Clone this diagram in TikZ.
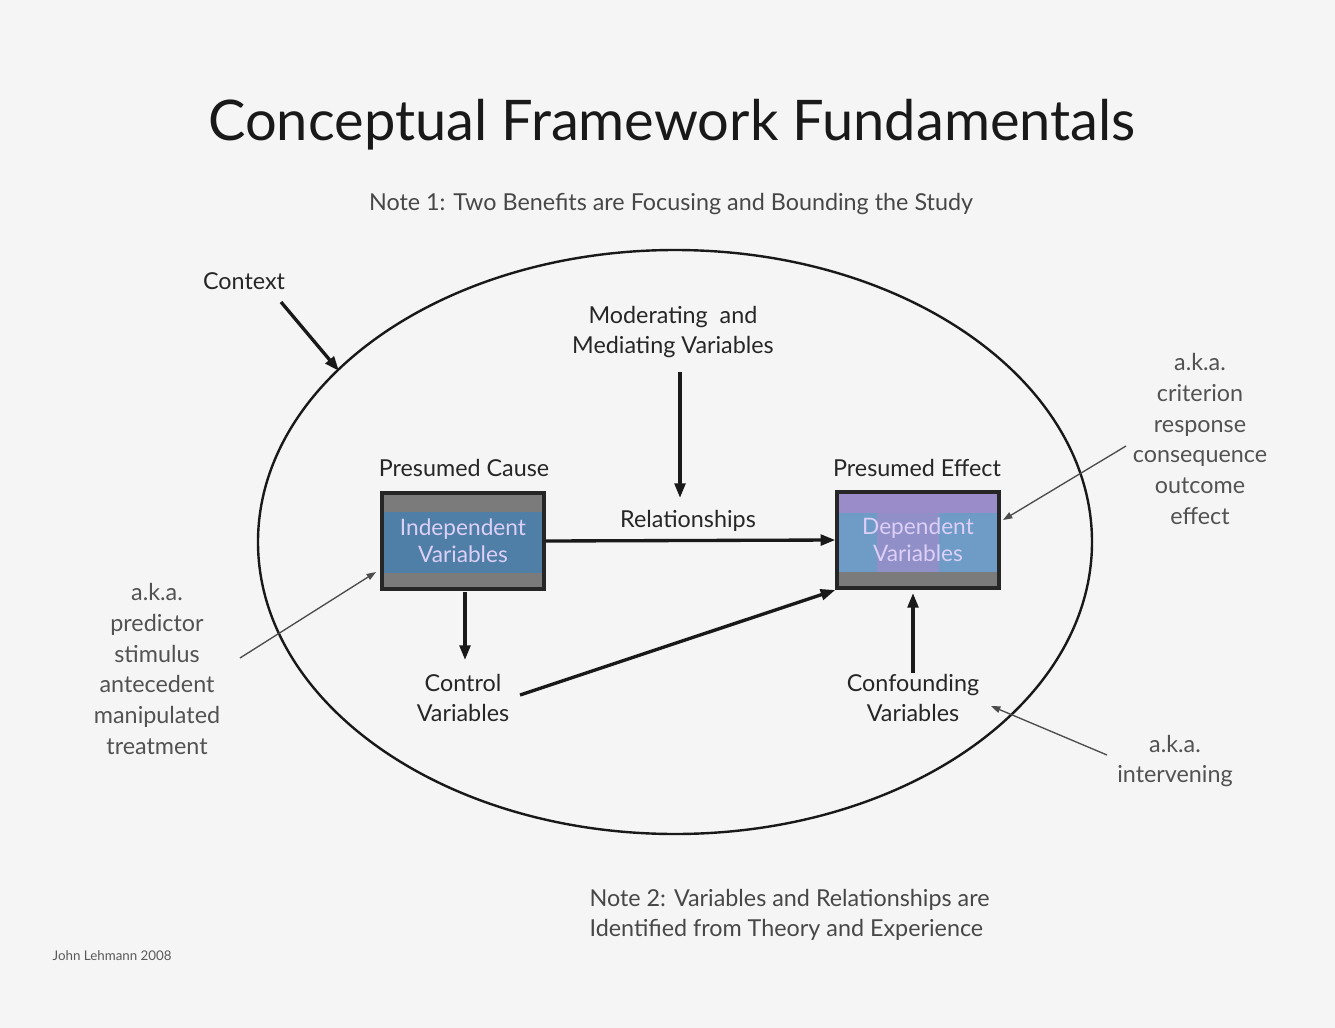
\documentclass[tikz,border=0pt]{standalone}
\usepackage{fontspec}
\setmainfont{Lato}
\usetikzlibrary{arrows.meta,calc}
\definecolor{bg}{HTML}{F5F5F5}
\definecolor{boxblue}{HTML}{4F7FA6}
\definecolor{boxblueL}{HTML}{6E9CC6}
\definecolor{boxpurple}{HTML}{9A8CC8}
\definecolor{lav}{HTML}{DCCFF8}
\definecolor{bandgray}{HTML}{7B7B7B}
\begin{document}
\begin{tikzpicture}[x=0.75pt,y=-0.75pt,
  lbl/.style={font=\fontsize{17.5}{22.5}\selectfont, align=center, text=black!85, inner sep=1pt},
  notetxt/.style={font=\fontsize{17.5}{22.5}\selectfont, text=black!72, inner sep=1pt},
  aka/.style={font=\fontsize{17.5}{23}\selectfont, align=center, text=black!68, inner sep=1pt},
  bigarrow/.style={-{Triangle[length=11pt,width=8pt]}, line width=2.5pt, draw=black!90},
  thinarrow/.style={-{Triangle[length=7pt,width=5pt]}, line width=1pt, draw=black!70},
  varbox/.style={draw=black!85, line width=3pt, minimum width=121pt, minimum height=72pt,
    font=\fontsize{17}{20}\selectfont, align=center, text=lav, inner sep=0pt},
  grayband/.style={path picture={
    \fill[bandgray] (path picture bounding box.north west) rectangle ($(path picture bounding box.north east)+(0,-14pt)$);
    \fill[bandgray] (path picture bounding box.south west) rectangle ($(path picture bounding box.south east)+(0,12pt)$);}},
  dvband/.style={path picture={
    \fill[boxpurple] (path picture bounding box.north west) rectangle ($(path picture bounding box.north east)+(0,-16pt)$);
    \fill[boxblueL] ($(path picture bounding box.north west)+(0,-16pt)$) rectangle ($(path picture bounding box.south east)+(0,12pt)$);
    \fill[boxpurple!80!boxblueL] ($(path picture bounding box.north west)+(30pt,-16pt)$) rectangle ($(path picture bounding box.south east)+(-45pt,12pt)$);
    \fill[bandgray] (path picture bounding box.south west) rectangle ($(path picture bounding box.south east)+(0,12pt)$);}}
]
\useasboundingbox (0,0) rectangle (1335,1028);
\fill[bg] (0,0) rectangle (1335,1028);

% title and notes
\node[font=\fontsize{42}{48}\selectfont, text=black!90] (title) at (672,125) {Conceptual Framework Fundamentals};
\node[notetxt] (note1) at (671,204) {Note 1: Two Benefits are Focusing and Bounding the Study};

% context ellipse
\draw[line width=1.8pt, black!90] (675,542) ellipse [x radius=312.75pt, y radius=219pt];
\node[lbl] (context) at (244,281) {Context};
\coordinate (ctxstart) at (281,302);
\coordinate (ctxend) at (339,371);
\draw[bigarrow] (ctxstart) -- (ctxend);

% moderating
\node[lbl] (mod) at (673,332) {Moderating~~and\\Mediating Variables};
\coordinate (modstart) at (680,372);
\coordinate (modend) at (680,498);
\draw[bigarrow] (modstart) -- (modend);

% boxes
\node[lbl] (pcause) at (464,468) {Presumed Cause};
\node[varbox, fill=boxblue, grayband] (iv) at (463,541) {Independent\\Variables};
\node[lbl] (peffect) at (917,468) {Presumed Effect};
\node[varbox, dvband] (dv) at (918,540) {Dependent\\Variables};

\node[lbl] (rel) at (688,521) {Relationships};
\draw[bigarrow] (iv.east) -- (dv.west);

% control
\node[lbl] (control) at (463,698) {Control\\Variables};
\coordinate (ivdown) at (465,592);
\coordinate (ctrlend) at (465,660);
\draw[bigarrow] (ivdown) -- (ctrlend);
\coordinate (ctrlstart) at (520,695);
\draw[bigarrow] (ctrlstart) -- (dv.south west);

% confounding
\node[lbl] (conf) at (913,698) {Confounding\\Variables};
\draw[bigarrow] (conf.north) -- (913,593);

% a.k.a. texts
\node[aka] (akaL) at (157,669) {a.k.a.\\predictor\\stimulus\\antecedent\\manipulated\\treatment};
\coordinate (akaLs) at (240,658);
\coordinate (akaLe) at (376,572);
\draw[thinarrow] (akaLs) -- (akaLe);

\node[aka] (akaR) at (1200,439) {a.k.a.\\criterion\\response\\consequence\\outcome\\effect};
\coordinate (akaRs) at (1126,446);
\coordinate (akaRe) at (1003,520);
\draw[thinarrow] (akaRs) -- (akaRe);

\node[aka] (akaI) at (1175,761) {a.k.a.\\intervening};
\coordinate (akaIs) at (1107,755);
\coordinate (akaIe) at (991,706);
\draw[thinarrow] (akaIs) -- (akaIe);

% note 2
\node[notetxt, anchor=west, align=left] (note2) at (588,915) {Note 2: Variables and Relationships are\\Identified from Theory and Experience};

% credit
\node[font=\fontsize{10}{12}\selectfont, text=black!65, anchor=west] (credit) at (48,956) {John Lehmann 2008};
\end{tikzpicture}
\end{document}
